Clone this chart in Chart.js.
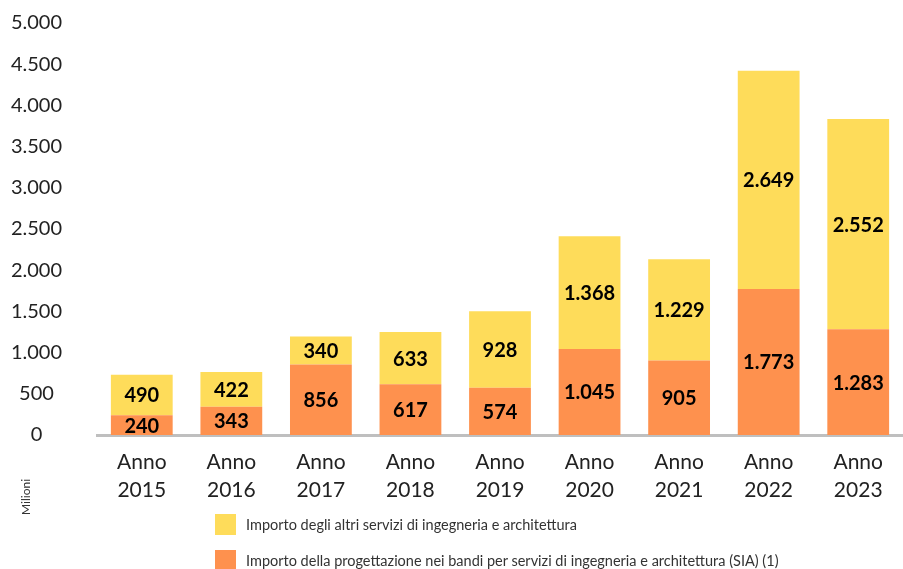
<!DOCTYPE html>
<html>
<head>
<meta charset="utf-8">
<script src="https://cdn.jsdelivr.net/npm/chart.js@4.4.0/dist/chart.umd.min.js"></script>
<style>
  html, body { margin: 0; padding: 0; background: #fff; }
  #wrap { position: relative; width: 903px; height: 569px; }
  #legend { position: absolute; left: 215px; top: 514px; font-family: Lato, sans-serif; font-size: 14.5px; color: #333; }
  .item { display: flex; align-items: center; height: 21px; margin-bottom: 15px; }
  .box { width: 21px; height: 21px; margin-right: 10px; }
</style>
</head>
<body>
<div id="wrap">
  <canvas id="chart" width="903" height="569"></canvas>
  <div id="legend"></div>
</div>
<script>
// Data
const years = ['2015', '2016', '2017', '2018', '2019', '2020', '2021', '2022', '2023'];
const siaValues = [240, 343, 856, 617, 574, 1045, 905, 1773, 1283];
const altriValues = [490, 422, 340, 633, 928, 1368, 1229, 2649, 2552];
const yTicks = [0, 500, 1000, 1500, 2000, 2500, 3000, 3500, 4000, 4500, 5000];

const YELLOW = '#FEDC5A';
const ORANGE = '#FE914E';

const fmt = v => String(v).replace(/\B(?=(\d{3})+(?!\d))/g, '.');

// Labels inside the bar segments
const barLabels = {
    id: 'barLabels',
    afterDatasetsDraw(chart) {
        const ctx = chart.ctx;
        ctx.save();
        ctx.font = 'bold 20px Lato, sans-serif';
        ctx.fillStyle = '#000';
        ctx.textAlign = 'center';
        ctx.textBaseline = 'middle';
        chart.data.datasets.forEach((ds, i) => {
            chart.getDatasetMeta(i).data.forEach((bar, j) => {
                ctx.fillText(fmt(ds.data[j]), bar.x, (bar.y + bar.base) / 2 + 1);
            });
        });
        ctx.restore();
    }
};

// "Milioni" unit note in the bottom left corner
const unitNote = {
    id: 'unitNote',
    afterDraw(chart) {
        const ctx = chart.ctx;
        ctx.save();
        ctx.translate(26, 497);
        ctx.rotate(-Math.PI / 2);
        ctx.font = '12px Lato, sans-serif';
        ctx.fillStyle = '#333';
        ctx.textAlign = 'center';
        ctx.textBaseline = 'middle';
        ctx.fillText('Milioni', 0, 0);
        ctx.restore();
    }
};

new Chart(document.getElementById('chart'), {
    type: 'bar',
    data: {
        labels: years.map(y => ['Anno', y]),
        datasets: [
            { label: 'Importo della progettazione nei bandi per servizi di ingegneria e architettura (SIA) (1)', data: siaValues, backgroundColor: ORANGE },
            { label: 'Importo degli altri servizi di ingegneria e architettura', data: altriValues, backgroundColor: YELLOW }
        ]
    },
    options: {
        responsive: false,
        animation: false,
        layout: { padding: { top: 0, bottom: 66, left: 0, right: 0 } },
        barPercentage: 0.69,
        categoryPercentage: 1,
        plugins: {
            legend: { display: false },
            tooltip: { enabled: false }
        },
        scales: {
            x: {
                stacked: true,
                grid: { display: false, drawTicks: false },
                border: { display: true, color: '#BFBFBF', width: 3 },
                afterFit: axis => { axis.height = 68; },
                ticks: { color: '#222', padding: 14, font: { family: 'Lato, sans-serif', size: 21, lineHeight: 1.3 } }
            },
            y: {
                stacked: true,
                min: 0,
                max: 5000,
                afterBuildTicks: axis => { axis.ticks = yTicks.map(v => ({ value: v })); },
                afterFit: axis => {
                    axis.width = 97;
                    axis.paddingTop = 23;
                    axis.paddingBottom = 0;
                },
                grid: { display: false, drawTicks: false },
                border: { display: false },
                ticks: {
                    color: '#222',
                    padding: 35,
                    crossAlign: 'center',
                    font: { family: 'Lato, sans-serif', size: 20 },
                    callback: v => fmt(v)
                }
            }
        }
    },
    plugins: [barLabels, unitNote]
});

// Legend, two rows
const legend = document.getElementById('legend');
[
    { color: YELLOW, text: 'Importo degli altri servizi di ingegneria e architettura' },
    { color: ORANGE, text: 'Importo della progettazione nei bandi per servizi di ingegneria e architettura (SIA) (1)' }
].forEach(item => {
    const row = document.createElement('div');
    row.className = 'item';
    row.innerHTML = `<div class="box" style="background:${item.color}"></div><span>${item.text}</span>`;
    legend.appendChild(row);
});
</script>
</body>
</html>
